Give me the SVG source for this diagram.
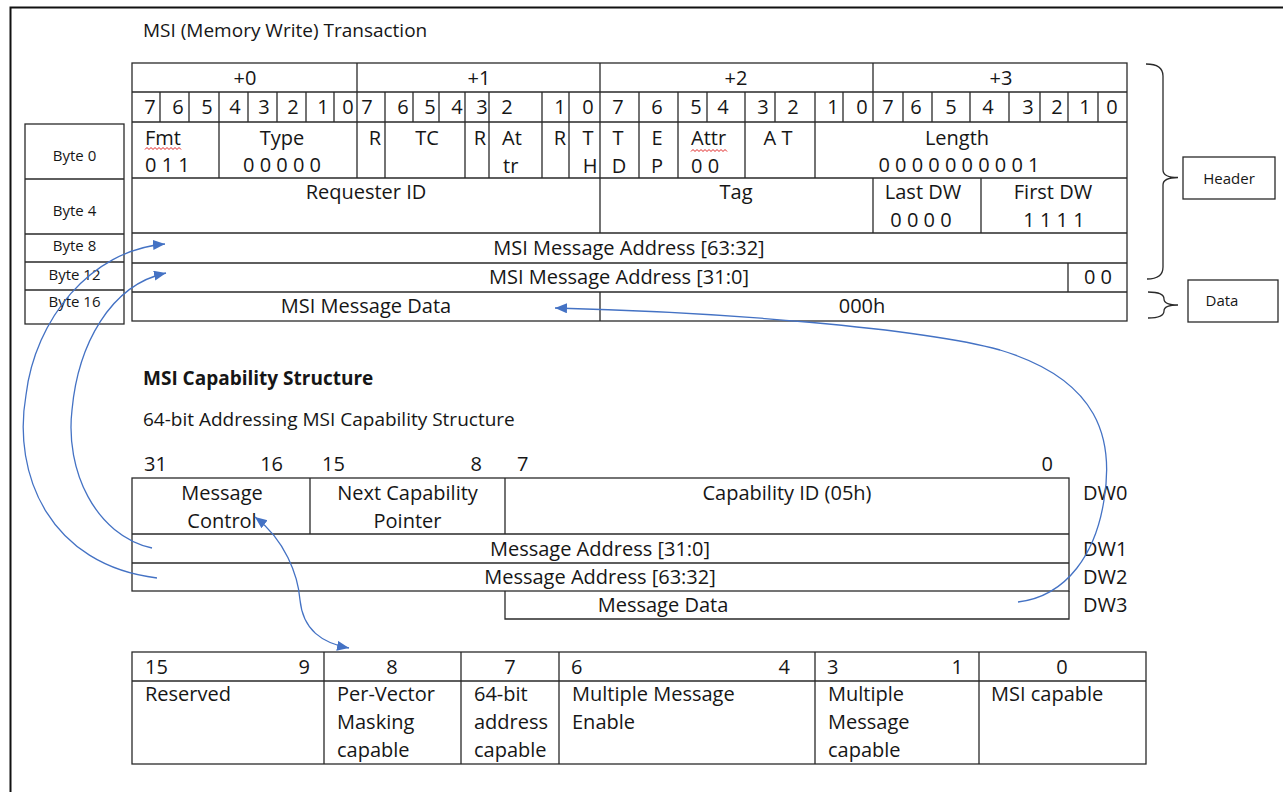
<svg xmlns="http://www.w3.org/2000/svg" width="1283" height="792" viewBox="0 0 1283 792">
<style>
text{font-family:"Open Sans","Liberation Sans",sans-serif;font-size:20px;fill:#161616}
.s{font-size:15px}
.ti{font-size:19px}
.b{font-weight:bold}
.c{text-anchor:middle}
.e{text-anchor:end}
.ln{stroke:#2a2a2a;stroke-width:1.3;fill:none}
.cn{stroke:#4472C4;stroke-width:1.3;fill:none}
.sq{stroke:#e02020;stroke-width:1;fill:none}
</style>
<defs>
<marker id="ah" markerUnits="userSpaceOnUse" markerWidth="13" markerHeight="11" refX="12" refY="5" orient="auto-start-reverse">
<path d="M0,0 L12,5 L0,10 z" fill="#4472C4"/>
</marker>
</defs>
<rect width="1283" height="792" fill="#fff"/>
<path d="M10.5,792 V7.5 H1283" stroke="#111" stroke-width="2" fill="none"/>

<g id="title">
<text class="ti" x="143" y="37">MSI (Memory Write) Transaction</text>
</g>

<g id="tlp-header-table">
<rect class="ln" x="132" y="63" width="995" height="258"/>
<path class="ln" d="M132,92H1127M132,122H1127M132,178H1127M132,233H1127M132,263H1127M132,292H1127"/>
<path class="ln" d="M357,63V92M600,63V92M873,63V92"/>
<path class="ln" d="M160,92V122M189,92V122M219,92V122M248,92V122M277,92V122M306,92V122M334,92V122M357,92V122M385,92V122M413,92V122M439,92V122M465,92V122M489,92V122M542,92V122M569,92V122M600,92V122M639,92V122M678,92V122M707,92V122M745,92V122M775,92V122M815,92V122M843,92V122M873,92V122M903,92V122M932,92V122M970,92V122M1009,92V122M1040,92V122M1068,92V122M1098,92V122"/>
<path class="ln" d="M219,122V178M357,122V178M385,122V178M465,122V178M489,122V178M542,122V178M569,122V178M600,122V178M639,122V178M678,122V178M745,122V178M815,122V178"/>
<path class="ln" d="M600,178V233M873,178V233M981,178V233M1068,263V292M600,292V321"/>
<text class="c" x="245" y="85">+0</text>
<text class="c" x="479" y="85">+1</text>
<text class="c" x="736" y="85">+2</text>
<text class="c" x="1001" y="85">+3</text>
<g>
<text class="c" x="150" y="114">7</text><text class="c" x="178" y="114">6</text><text class="c" x="207" y="114">5</text><text class="c" x="235" y="114">4</text><text class="c" x="264" y="114">3</text><text class="c" x="293" y="114">2</text><text class="c" x="323" y="114">1</text><text class="c" x="348" y="114">0</text>
<text class="c" x="367" y="114">7</text><text class="c" x="403" y="114">6</text><text class="c" x="430" y="114">5</text><text class="c" x="457" y="114">4</text><text class="c" x="482" y="114">3</text><text class="c" x="507" y="114">2</text><text class="c" x="560" y="114">1</text><text class="c" x="588" y="114">0</text>
<text class="c" x="618" y="114">7</text><text class="c" x="657" y="114">6</text><text class="c" x="696" y="114">5</text><text class="c" x="723" y="114">4</text><text class="c" x="763" y="114">3</text><text class="c" x="793" y="114">2</text><text class="c" x="833" y="114">1</text><text class="c" x="862" y="114">0</text>
<text class="c" x="888" y="114">7</text><text class="c" x="916" y="114">6</text><text class="c" x="951" y="114">5</text><text class="c" x="988" y="114">4</text><text class="c" x="1028" y="114">3</text><text class="c" x="1057" y="114">2</text><text class="c" x="1085" y="114">1</text><text class="c" x="1112" y="114">0</text>
</g>
<text x="145" y="145">Fmt</text>
<path class="sq" d="M145,149.5 l2,-2 l2,2 l2,-2 l2,2 l2,-2 l2,2 l2,-2 l2,2 l2,-2 l2,2 l2,-2 l2,2 l2,-2 l2,2 l2,-2 l2,2 l2,-2 l2,2"/>
<text x="145" y="172">0 1 1</text>
<text class="c" x="282" y="145">Type</text>
<text class="c" x="282" y="172">0 0 0 0 0</text>
<text class="c" x="375" y="145">R</text>
<text class="c" x="427" y="145">TC</text>
<text class="c" x="480" y="145">R</text>
<text x="502" y="145">At</text>
<text x="503" y="173">tr</text>
<text class="c" x="560" y="145">R</text>
<text class="c" x="588" y="145">T</text>
<text class="c" x="590" y="173">H</text>
<text class="c" x="618" y="145">T</text>
<text class="c" x="619" y="173">D</text>
<text class="c" x="657" y="145">E</text>
<text class="c" x="657" y="173">P</text>
<text x="691" y="145">Attr</text>
<path class="sq" d="M691,151.5 l2,-2 l2,2 l2,-2 l2,2 l2,-2 l2,2 l2,-2 l2,2 l2,-2 l2,2 l2,-2 l2,2 l2,-2 l2,2 l2,-2 l2,2 l2,-2 l2,2"/>
<text x="691" y="173">0 0</text>
<text class="c" x="778" y="145">A T</text>
<text class="c" x="957" y="145">Length</text>
<text class="c" x="959" y="172">0 0 0 0 0 0 0 0 0 1</text>
<text class="c" x="366" y="199">Requester ID</text>
<text class="c" x="736" y="199">Tag</text>
<text class="c" x="923" y="199">Last DW</text>
<text class="c" x="921" y="227">0 0 0 0</text>
<text class="c" x="1053" y="199">First DW</text>
<text class="c" x="1054" y="227">1 1 1 1</text>
<text class="c" x="629" y="255">MSI Message Address [63:32]</text>
<text class="c" x="619" y="284">MSI Message Address [31:0]</text>
<text class="c" x="1098" y="284">0 0</text>
<text class="c" x="366" y="313">MSI Message Data</text>
<text class="c" x="862" y="313">000h</text>
</g>

<g id="byte-labels">
<rect class="ln" x="25" y="124" width="99" height="200"/>
<path class="ln" d="M25,179H124M25,234H124M25,262H124M25,290H124"/>
<text class="s c" x="74.5" y="161">Byte 0</text>
<text class="s c" x="74.5" y="216">Byte 4</text>
<text class="s c" x="74.5" y="251">Byte 8</text>
<text class="s c" x="74.5" y="280">Byte 12</text>
<text class="s c" x="74.5" y="307">Byte 16</text>
</g>

<g id="header-brace">
<path class="ln" d="M1146,64 Q1163,64 1163,76 V170 Q1163,177.5 1178,177.5 Q1163,177.5 1163,185 V267 Q1163,279 1147,279"/>
</g>
<g id="header-box">
<rect class="ln" x="1183" y="157" width="92" height="42"/>
<text class="s c" x="1229" y="184">Header</text>
</g>
<g id="data-brace">
<path class="ln" d="M1148,292 Q1164,292 1164,299 Q1164,305 1178,305 Q1164,305 1164,311 Q1164,318 1148,318"/>
</g>
<g id="data-box">
<rect class="ln" x="1188" y="280" width="90" height="42"/>
<text class="s c" x="1222" y="306">Data</text>
</g>

<g id="cap-title">
<text class="ti b" x="143" y="385">MSI Capability Structure</text>
<text class="ti" x="143" y="426">64-bit Addressing MSI Capability Structure</text>
</g>

<g id="cap-structure">
<text x="144" y="471">31</text>
<text class="e" x="283" y="471">16</text>
<text x="322" y="471">15</text>
<text class="e" x="482" y="471">8</text>
<text x="517" y="471">7</text>
<text class="e" x="1053" y="471">0</text>
<rect class="ln" x="132" y="478" width="937" height="113"/>
<path class="ln" d="M132,534H1069M132,563H1069M310,478V534M505,478V534M505,591V619H1069V591"/>
<text class="c" x="222" y="500">Message</text>
<text class="c" x="222" y="528">Control</text>
<text class="c" x="407.5" y="500">Next Capability</text>
<text class="c" x="407.5" y="528">Pointer</text>
<text class="c" x="787" y="500">Capability ID (05h)</text>
<text class="c" x="600" y="556">Message Address [31:0]</text>
<text class="c" x="600" y="584">Message Address [63:32]</text>
<text class="c" x="663" y="612">Message Data</text>
<text x="1083" y="500">DW0</text>
<text x="1083" y="556">DW1</text>
<text x="1083" y="584">DW2</text>
<text x="1083" y="612">DW3</text>
</g>

<g id="message-control-table">
<rect class="ln" x="132" y="652" width="1014" height="112"/>
<path class="ln" d="M132,681H1146M324,652V764M461,652V764M559,652V764M815,652V764M979,652V764"/>
<text x="145" y="674">15</text>
<text class="e" x="310" y="674">9</text>
<text class="c" x="392" y="674">8</text>
<text class="c" x="510" y="674">7</text>
<text x="571" y="674">6</text>
<text class="e" x="790" y="674">4</text>
<text x="827" y="674">3</text>
<text class="e" x="963" y="674">1</text>
<text class="c" x="1062" y="674">0</text>
<text x="145" y="701">Reserved</text>
<text x="337" y="701">Per-Vector</text>
<text x="337" y="729">Masking</text>
<text x="337" y="757">capable</text>
<text x="474" y="701">64-bit</text>
<text x="474" y="729">address</text>
<text x="474" y="757">capable</text>
<text x="572" y="701">Multiple Message</text>
<text x="572" y="729">Enable</text>
<text x="828" y="701">Multiple</text>
<text x="828" y="729">Message</text>
<text x="828" y="757">capable</text>
<text x="991" y="701">MSI capable</text>
</g>

<g id="connectors">
<path class="cn" marker-end="url(#ah)" d="M157,578 C50,565 12,475 26,395 C35,320 90,250 165,244"/>
<path class="cn" marker-end="url(#ah)" d="M152,548 C95,535 65,470 72,410 C78,345 110,285 166,273"/>
<path class="cn" marker-end="url(#ah)" d="M1018,602 C1068,596 1096,552 1104,500 C1114,440 1100,380 1000,350 C920,328 720,312 555,308"/>
<path class="cn" marker-start="url(#ah)" marker-end="url(#ah)" d="M255,517 C285,540 298,575 300,600 C303,630 322,643 349,648"/>
</g>
</svg>
